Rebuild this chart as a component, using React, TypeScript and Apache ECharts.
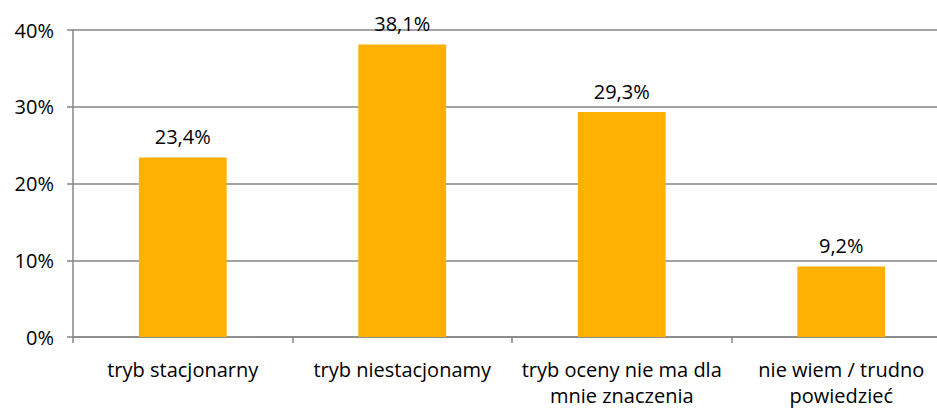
import React, { useEffect, useRef } from "react";
import * as echarts from "echarts";

const categories = [
  "tryb stacjonarny",
  "tryb niestacjonamy",
  "tryb oceny nie ma dla\nmnie znaczenia",
  "nie wiem / trudno\npowiedzieć",
];
const values = [23.4, 38.1, 29.3, 9.2];
const yTicks = { min: 0, max: 40, interval: 10 };

const FONT = "'Open Sans', 'Noto Sans', sans-serif";
const GRAY = "#868686";

export default function App() {
  const ref = useRef<HTMLDivElement>(null);
  useEffect(() => {
    if (!ref.current) return;
    const chart = echarts.init(ref.current, undefined, { renderer: "svg" });
    chart.setOption({
      animation: false,
      grid: { left: 73, width: 878, top: 30, height: 307, containLabel: false, outerBoundsMode: "none" },
      xAxis: {
        type: "category",
        data: categories,
        axisLine: { show: true, lineStyle: { color: GRAY, width: 1.5 } },
        axisTick: { show: true, length: 6, alignWithLabel: false, lineStyle: { color: GRAY, width: 1.5 } },
        axisLabel: {
          color: "#000",
          fontFamily: FONT,
          fontSize: 20,
          margin: 19,
          lineHeight: 26,
          interval: 0,
        },
      },
      yAxis: {
        type: "value",
        min: yTicks.min,
        max: yTicks.max,
        interval: yTicks.interval,
        axisLine: { show: true, lineStyle: { color: GRAY, width: 1.5 } },
        axisTick: { show: true, length: 6, lineStyle: { color: GRAY, width: 1.5 } },
        splitLine: { show: true, lineStyle: { color: GRAY, width: 1.5 } },
        axisLabel: {
          color: "#000",
          fontFamily: FONT,
          fontSize: 20,
          margin: 19,
          formatter: (v: number) => `${v}%`,
        },
      },
      series: [
        {
          type: "bar",
          data: values,
          barWidth: "40%",
          itemStyle: { color: "#FFB000" },
          label: {
            show: true,
            position: "top",
            distance: 11,
            color: "#000",
            fontFamily: FONT,
            fontSize: 20,
            formatter: (p: any) => `${String(p.value).replace(".", ",")}%`,
          },
        },
      ],
    });
    return () => chart.dispose();
  }, []);
  return <div ref={ref} style={{ width: 937, height: 409, position: "absolute", left: 0, top: 0 }} />;
}
